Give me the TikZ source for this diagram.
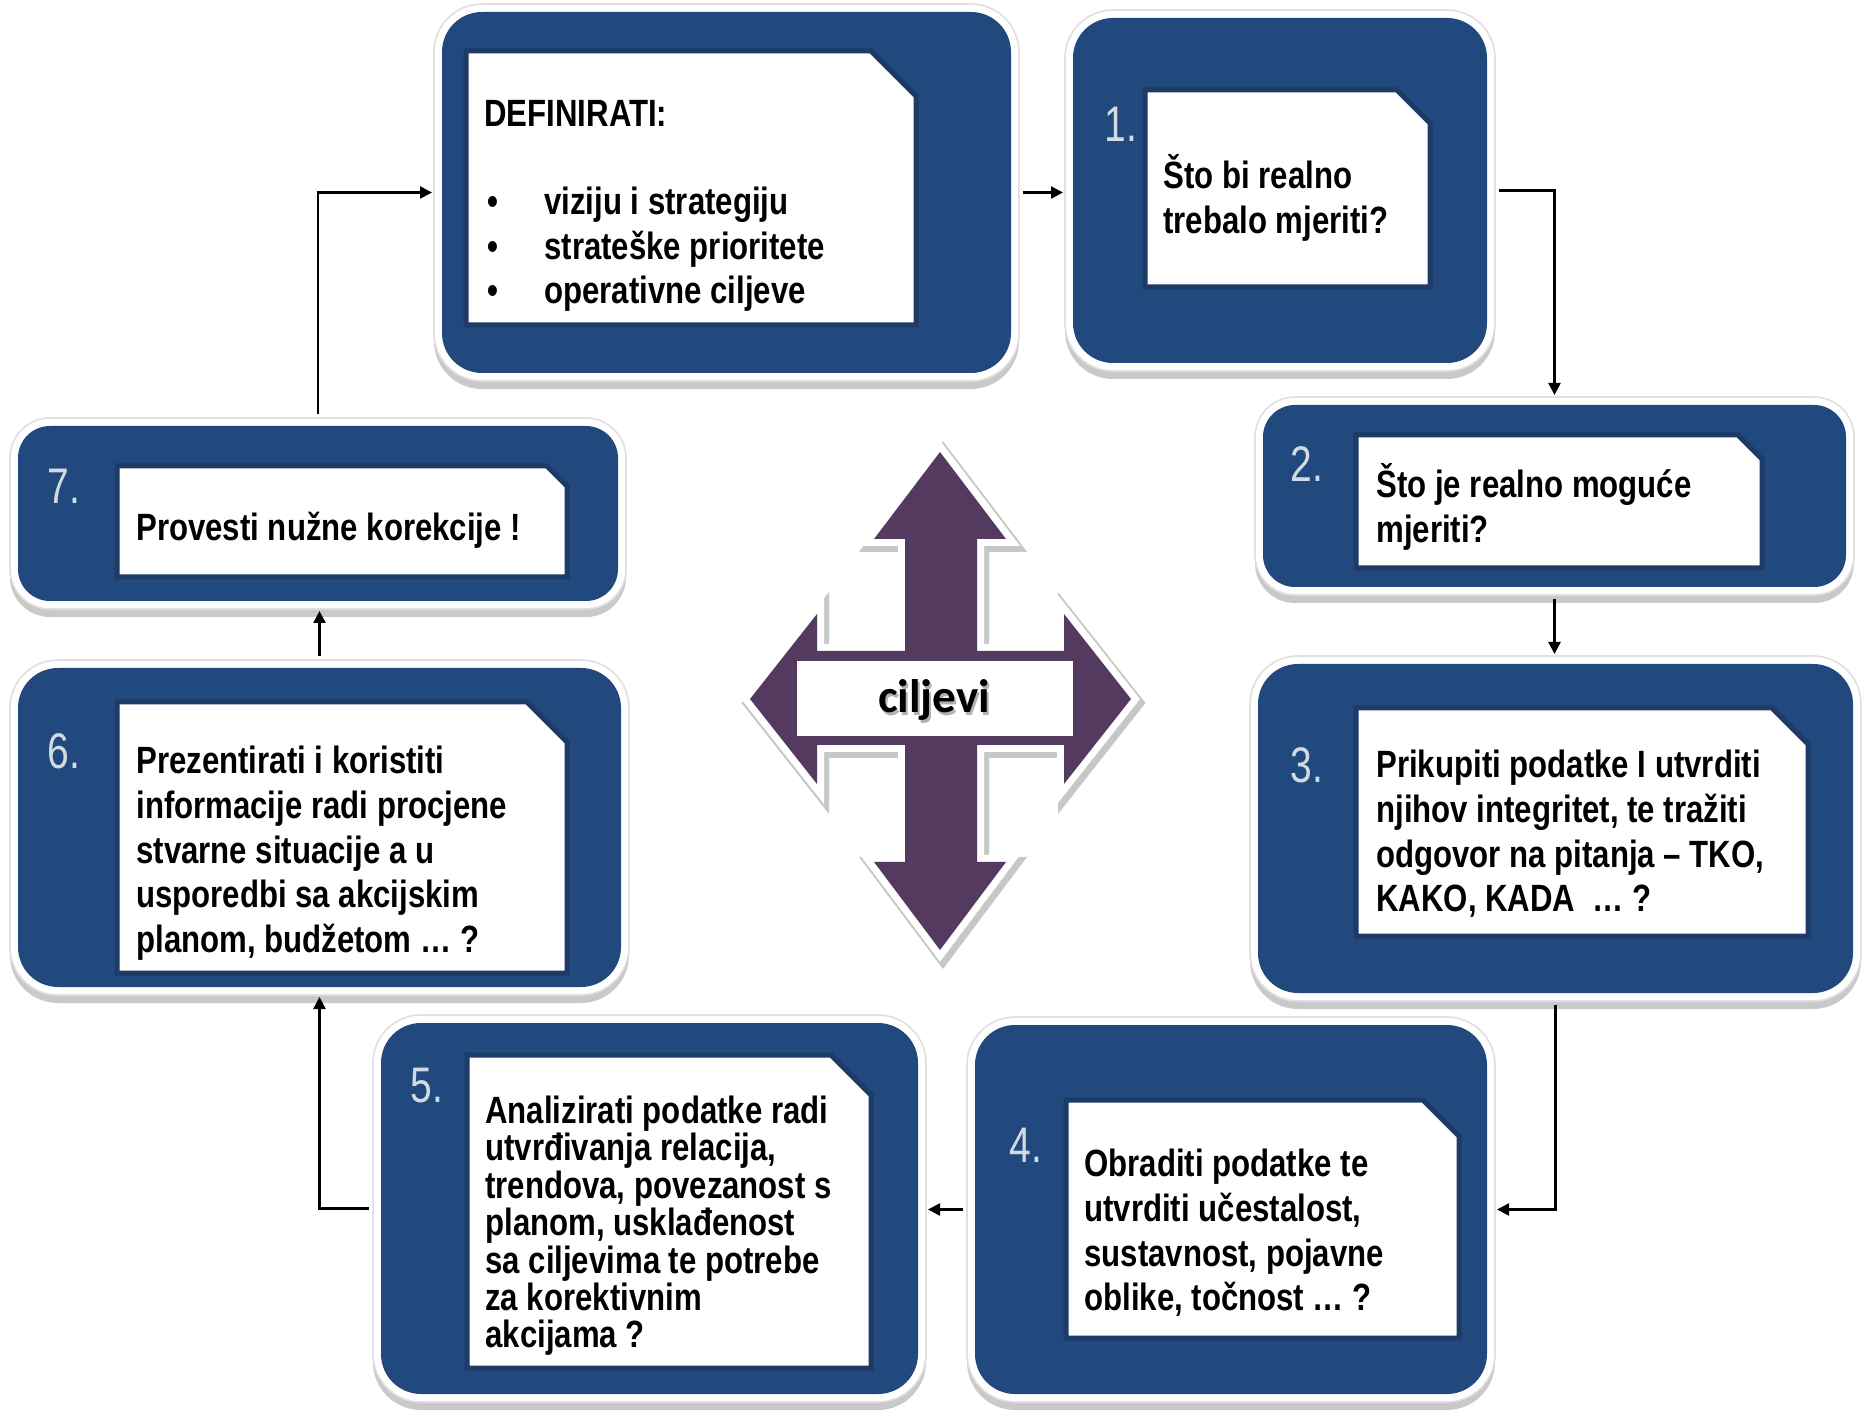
\documentclass[tikz,border=0pt]{standalone}
\usepackage{fontspec}
\setmainfont{Liberation Sans}
\newfontfamily\narrowsans[FakeStretch=0.82]{Liberation Sans}
\newfontfamily\stepnumfont[FakeStretch=0.78]{Liberation Sans}
\newfontfamily\goalfont{Carlito}
\usetikzlibrary{fit,shadows,arrows.meta}

\definecolor{boxblue}{HTML}{21497D}
\definecolor{docedge}{HTML}{1D3B66}
\definecolor{crosspurple}{HTML}{553A60}
\definecolor{numgray}{HTML}{D3DAE4}

% strut fixing the height of the first text line (34 units above the baseline)
\newcommand\firstline{\rule{0pt}{17pt}}
\newcommand\bul{\makebox[30pt][l]{\hspace{1.5pt}•}}

% rounded blue panel with white rim and shadow: name, x1, y1, x2, y2, radius, rim radius
\newcommand\stepframe[7]{%
  \node[rim, rounded corners=#7, fit={(#2,#3) (#4,#5)}] (#1-rim) {};
  \node[panel, rounded corners=#6, fit={(#2,#3) (#4,#5)}] (#1) {};}

% white sheet with a clipped top-right corner: x1, y1, x2, y2, cut
\newcommand\docpage[5]{%
  \filldraw[docpage] (#1,#2) -- ({#3-#5},#2) -- (#3,{#2+#5}) -- (#3,#4) -- (#1,#4) -- cycle;}

\tikzset{
  rim/.style={inner sep=4pt, outer sep=0pt, fill=white, draw=black!12, line width=0.8pt,
    drop shadow={shadow xshift=0pt, shadow yshift=-4pt, opacity=0.35, fill=black!60}},
  panel/.style={inner sep=0pt, outer sep=0pt, fill=boxblue},
  docpage/.style={fill=white, draw=docedge, line width=2.5pt, line join=miter},
  steptext/.style={anchor=north west, inner sep=0pt, align=left, text=black,
    font=\narrowsans\bfseries\fontsize{19pt}{22.4pt}\selectfont},
  tighttext/.style={steptext, font=\narrowsans\bfseries\fontsize{19pt}{18.7pt}\selectfont},
  stepnum/.style={anchor=base west, inner sep=0pt, text=numgray,
    font=\stepnumfont\fontsize{25pt}{25pt}\selectfont},
  conn/.style={draw=black, line width=1.2pt, -{Triangle[length=6pt,width=6pt]},
    shorten <=6pt, shorten >=5pt},
  crossshade/.style={shift={(3,4)}, fill=black!22, draw=black!22, line width=9pt, line join=miter},
  crossrim/.style={fill=white, draw=white, line width=7pt, line join=miter},
  crossbody/.style={fill=crosspurple},
  goaltext/.style={inner sep=0pt, font=\goalfont\bfseries\fontsize{23.5pt}{23.5pt}\selectfont},
}

\begin{document}
\begin{tikzpicture}[x=0.5pt, y=-0.5pt]
\useasboundingbox (0,0) rectangle (1865,1411);
\fill[white] (0,0) rectangle (1865,1411);

% panels
\stepframe{def}{442}{12}{1011}{373}{20pt}{24pt}
\stepframe{s1}{1073}{18}{1487}{363}{20pt}{24pt}
\stepframe{s2}{1263}{405}{1846}{587}{16pt}{20pt}
\stepframe{s3}{1258}{664}{1853}{993}{20pt}{24pt}
\stepframe{s4}{975}{1025}{1487}{1394}{20pt}{24pt}
\stepframe{s5}{381}{1023}{918}{1394}{20pt}{24pt}
\stepframe{s6}{18}{668}{621}{987}{20pt}{24pt}
\stepframe{s7}{18}{426}{618}{601}{16pt}{20pt}

% sheets
\docpage{466}{51}{916}{325}{45}
\docpage{1145}{90}{1430}{287}{33}
\docpage{1356}{435}{1762}{568}{24}
\docpage{1356}{708}{1808}{936}{36}
\docpage{1066}{1100}{1459}{1338}{36}
\docpage{467}{1055}{871}{1368}{40}
\docpage{117}{702}{567}{973}{40}
\docpage{117}{466}{567}{577}{20}

% step numbers
\node[stepnum] (n1) at (1104,142) {1.};
\node[stepnum] (n2) at (1290,482) {2.};
\node[stepnum] (n3) at (1290,783) {3.};
\node[stepnum] (n4) at (1009,1162) {4.};
\node[stepnum] (n5) at (410,1102) {5.};
\node[stepnum] (n6) at (47,769) {6.};
\node[stepnum] (n7) at (47,504) {7.};

% texts
\node[steptext] (tdef) at (484,92) {\firstline DEFINIRATI:\\[21.6pt]
  \bul viziju i strategiju\\
  \bul strateške prioritete\\
  \bul operativne ciljeve};
\node[steptext] (t1) at (1163,154) {\firstline Što bi realno\\trebalo mjeriti?};
\node[steptext] (t2) at (1376,463) {\firstline Što je realno moguće\\mjeriti?};
\node[steptext] (t3) at (1376,743) {\firstline Prikupiti podatke I utvrditi\\
  njihov integritet, te tražiti\\odgovor na pitanja – TKO,\\KAKO, KADA~ … ?};
\node[steptext] (t4) at (1084,1142) {\firstline Obraditi podatke te\\
  utvrditi učestalost,\\sustavnost, pojavne\\oblike, točnost … ?};
\node[tighttext] (t5) at (485,1089) {\firstline Analizirati podatke radi\\
  utvrđivanja relacija,\\trendova, povezanost s\\planom, usklađenost\\
  sa ciljevima te potrebe\\za korektivnim\\akcijama ?};
\node[steptext] (t6) at (136,739) {\firstline Prezentirati i koristiti\\
  informacije radi procjene\\stvarne situacije a u\\usporedbi sa akcijskim\\
  planom, budžetom … ?};
\node[steptext] (t7) at (136,506) {\firstline Provesti nužne korekcije !};

% connectors
\draw[conn] (s7.north) |- (def.west);
\draw[conn] (def.east) -- (def.east -| s1.west);
\draw[conn] (s1.east) -| (s2.north);
\draw[conn] (s2.south) -- (s2.south |- s3.north);
\draw[conn] (s3.south) |- (s4.east);
\draw[conn] (s4.west) -- (s4.west -| s5.east);
\draw[conn] (s5.west) -| (s6.south);
\draw[conn] (s6.north) -- (s6.north |- s7.south);

% four-way arrow in the centre
\begin{scope}[shift={(-8,0)}]
\path[crossshade] (948,452) -- (1014,539) -- (985,539) -- (985,651) -- (1072,651) -- (1072,614)
  -- (1139,699) -- (1072,784) -- (1072,745) -- (985,745) -- (985,862) -- (1014,862)
  -- (948,950) -- (882,862) -- (913,862) -- (913,745) -- (825,745) -- (825,784)
  -- (758,699) -- (825,614) -- (825,651) -- (913,651) -- (913,539) -- (882,539) -- cycle;
\path[crossrim] (948,452) -- (1014,539) -- (985,539) -- (985,651) -- (1072,651) -- (1072,614)
  -- (1139,699) -- (1072,784) -- (1072,745) -- (985,745) -- (985,862) -- (1014,862)
  -- (948,950) -- (882,862) -- (913,862) -- (913,745) -- (825,745) -- (825,784)
  -- (758,699) -- (825,614) -- (825,651) -- (913,651) -- (913,539) -- (882,539) -- cycle;
\path[crossbody] (948,452) -- (1014,539) -- (985,539) -- (985,651) -- (1072,651) -- (1072,614)
  -- (1139,699) -- (1072,784) -- (1072,745) -- (985,745) -- (985,862) -- (1014,862)
  -- (948,950) -- (882,862) -- (913,862) -- (913,745) -- (825,745) -- (825,784)
  -- (758,699) -- (825,614) -- (825,651) -- (913,651) -- (913,539) -- (882,539) -- cycle;
\end{scope}

\node[fill=white, inner sep=0pt, fit={(797,661) (1073,736)}] (goalbox) {};
\node[goaltext, text=black!30] (goalshade) at (936,703) {ciljevi};
\node[goaltext, text=black] (goal) at (934,700) {ciljevi};
\end{tikzpicture}
\end{document}
